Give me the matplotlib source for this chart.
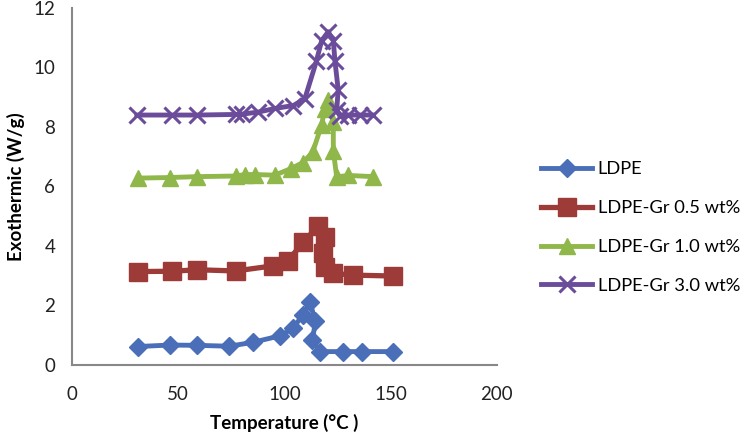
import matplotlib.pyplot as plt

plt.rcParams['font.family'] = ['Lato', 'DejaVu Sans']

# данные
t_ldpe = [31, 46, 59, 74, 85, 98, 104, 108.6, 112, 114.6, 113.2, 116.7, 127.7, 136.3, 151]
y_ldpe = [0.62, 0.67, 0.66, 0.63, 0.76, 0.98, 1.23, 1.68, 2.1, 1.48, 0.84, 0.45, 0.45, 0.45, 0.45]

t_gr05 = [31, 47, 59, 77, 94.5, 101.5, 108.9, 115.9, 119, 118.3, 119, 122.7, 132.4, 151]
y_gr05 = [3.14, 3.15, 3.2, 3.16, 3.33, 3.5, 4.12, 4.68, 4.3, 3.75, 3.3, 3.08, 3.02, 2.99]

t_gr10 = [31, 46, 59, 77, 81.4, 86.1, 95.5, 103.1, 108.6, 113.3, 117.5, 119, 120.6, 123, 123, 124.6, 130, 141.8]
y_gr10 = [6.28, 6.3, 6.33, 6.35, 6.4, 6.4, 6.38, 6.6, 6.8, 7.15, 8.07, 8.6, 8.9, 8.18, 7.2, 6.32, 6.37, 6.33]

t_gr30 = [30.5, 47, 59, 77, 80, 87.7, 95.5, 104.2, 109.6, 115, 117.5, 120.6, 123, 123.8, 125.3, 124.6, 126, 130, 135.5, 141.8]
y_gr30 = [8.4, 8.4, 8.4, 8.42, 8.43, 8.5, 8.62, 8.72, 8.95, 10.2, 10.9, 11.2, 10.9, 10.2, 9.25, 8.57, 8.38, 8.4, 8.4, 8.4]

labels = ['LDPE', 'LDPE-Gr 0.5 wt%', 'LDPE-Gr 1.0 wt%', 'LDPE-Gr 3.0 wt%']

fig = plt.figure(figsize=(7.54, 4.40), dpi=100)
ax = fig.add_axes([0.0955, 0.1705, 0.5635, 0.8115])

ax.plot(t_ldpe, y_ldpe, color='#4A6EB8', lw=3.5, marker='D', ms=9, label=labels[0])
ax.plot(t_gr05, y_gr05, color='#9C3B38', lw=3.8, marker='s', ms=12.5, label=labels[1])
ax.plot(t_gr10, y_gr10, color='#8FB74A', lw=3.5, marker='^', ms=11, label=labels[2])
ax.plot(t_gr30, y_gr30, color='#6B4C9A', lw=3.5, marker='x', ms=11, mew=2.2, label=labels[3])

ax.set_xlim(0, 200)
ax.set_ylim(0, 12)
ax.set_xticks([0, 50, 100, 150, 200])
ax.set_yticks(range(0, 13, 2))
ax.tick_params(length=0, labelsize=13.5, colors='#222222', pad=12)
ax.tick_params(axis='x', pad=15)
for s in ['top', 'right']:
    ax.spines[s].set_visible(False)
for s in ['left', 'bottom']:
    ax.spines[s].set_color('#888888')
    ax.spines[s].set_linewidth(1.5)

ax.set_xlabel('Temperature (°C )', fontsize=13.5, fontweight='bold', labelpad=8)
ax.set_ylabel('Exothermic (W/g)', fontsize=13.5, fontweight='bold', labelpad=6)

ax.legend(loc='center left', bbox_to_anchor=(1.065, 0.385), frameon=False,
          fontsize=13.2, handlelength=2.8, labelspacing=1.25, handletextpad=0.3)

fig.savefig('out.png', dpi=100)
